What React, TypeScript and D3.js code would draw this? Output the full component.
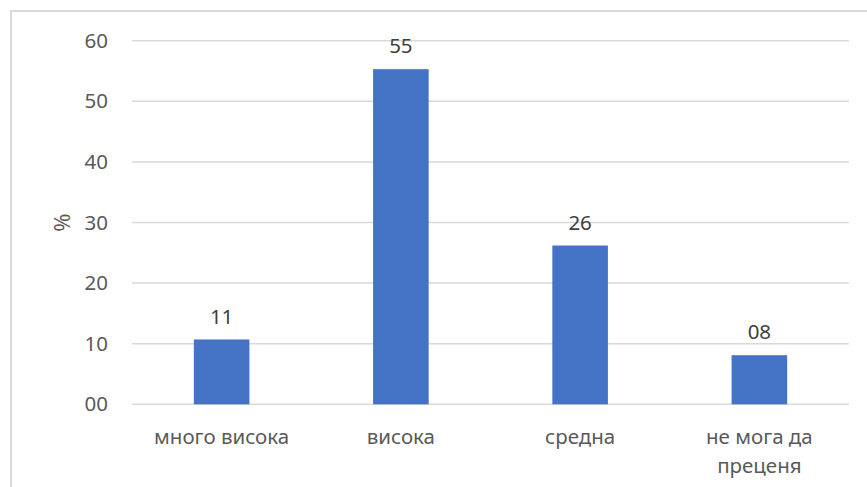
import React from "react";
import * as d3 from "d3";

const categories: string[][] = [["много висока"], ["висока"], ["средна"], ["не мога да", "преценя"]];
const values: number[] = [10.7, 55.3, 26.2, 8.1];
const yTicks: number[] = [0, 10, 20, 30, 40, 50, 60];

const W = 867;
const H = 487;
const FONT = "'Noto Sans', 'Open Sans', sans-serif";

export default function App() {
  const left = 132, right = 849, top = 40.7, bottom = 404.3;
  const x = d3.scaleBand<number>().domain(categories.map((_, i) => i)).range([left, right]).paddingInner(0.69).paddingOuter(0.345);
  const y = d3.scaleLinear().domain([0, 60]).range([bottom, top]);
  const fmt = (v: number) => String(Math.round(v)).padStart(2, "0");
  return (
    <svg width={W} height={H} style={{ position: "absolute", left: 0, top: 0, background: "#fff" }} fontFamily={FONT}>
      <rect x={11} y={11} width={W + 10} height={H + 10} fill="#fff" stroke="#d9d9d9" strokeWidth={2} />
      {yTicks.map((t) => (
        <g key={t}>
          <line x1={left} x2={right} y1={y(t)} y2={y(t)} stroke="#d9d9d9" strokeWidth={1.5} />
          <text x={108} y={y(t)} dy="0.35em" textAnchor="end" fontSize={20.5} fill="#595959">{fmt(t)}</text>
        </g>
      ))}
      <text transform={`translate(62,${(top + bottom) / 2}) rotate(-90)`} textAnchor="middle" dy="0.35em" fontSize={22} fill="#595959">%</text>
      {values.map((v, i) => (
        <g key={i}>
          <rect x={x(i)} y={y(v)} width={x.bandwidth()} height={bottom - y(v)} fill="#4472C4" />
          <text x={(x(i) as number) + x.bandwidth() / 2} y={y(v) - 23} dy="0.35em" textAnchor="middle" fontSize={20.5} fill="#404040">{fmt(v)}</text>
          {categories[i].map((line, j) => (
            <text key={j} x={(x(i) as number) + x.bandwidth() / 2} y={437 + j * 29} dy="0.35em" textAnchor="middle" fontSize={20.5} fill="#595959">{line}</text>
          ))}
        </g>
      ))}
    </svg>
  );
}
